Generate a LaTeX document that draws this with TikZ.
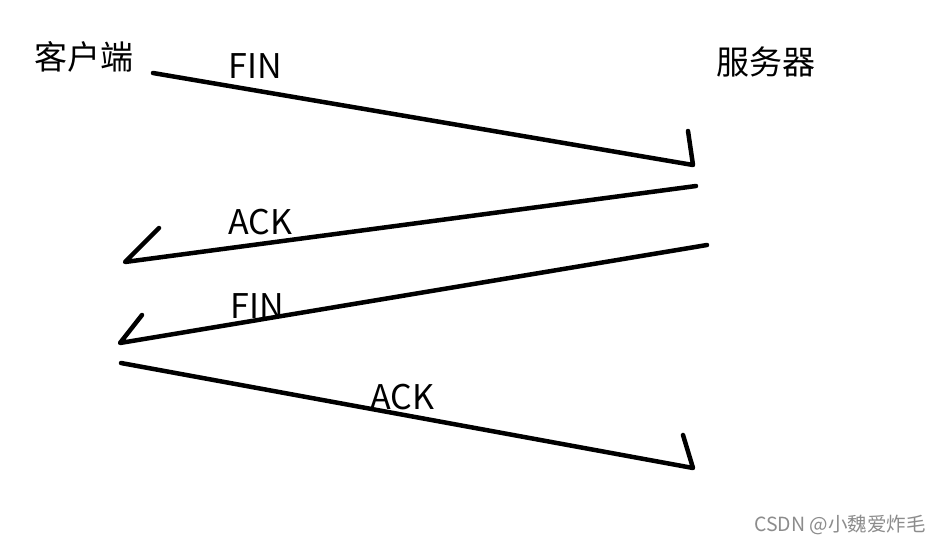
\documentclass[tikz,border=0pt]{standalone}
\usepackage{fontspec}
\newfontfamily\cjk{Noto Sans CJK SC}
\begin{document}
\begin{tikzpicture}[x=1pt,y=-1pt,
  stroke/.style={line width=4.5pt,line cap=round,line join=round,black},
  lbl/.style={font=\cjk\fontsize{33}{33}\selectfont,inner sep=0pt},
  msg/.style={font=\cjk\fontsize{34}{34}\selectfont,inner sep=0pt},
  wm/.style={font=\cjk\fontsize{19.5}{19.5}\selectfont,text=black!45,inner sep=0pt}]
\useasboundingbox (0,0) rectangle (941,544);
\fill[white] (0,0) rectangle (941,544);
% labels
\node[lbl] (client) at (84,57) {客户端};
\node[lbl] (server) at (766,62) {服务器};
\node[msg] (fin1) at (255,66) {FIN};
\node[msg] (ack1) at (260,222) {ACK};
\node[msg] (fin2) at (257,306) {FIN};
\node[msg] (ack2) at (402,397) {ACK};
\node[wm] (mark) at (840,525) {CSDN @小魏爱炸毛};
% endpoints
\coordinate (a1) at (153,73);  \coordinate (b1) at (693,165); \coordinate (h1) at (688,131);
\coordinate (a2) at (696,186); \coordinate (b2) at (125,262); \coordinate (h2) at (159,228);
\coordinate (a3) at (707,245); \coordinate (b3) at (120,343); \coordinate (h3) at (142,315);
\coordinate (a4) at (121,363); \coordinate (b4) at (693,468); \coordinate (h4) at (683,435);
\draw[stroke] (a1) -- (b1) -- (h1);
\draw[stroke] (a2) -- (b2) -- (h2);
\draw[stroke] (a3) -- (b3) -- (h3);
\draw[stroke] (a4) -- (b4) -- (h4);
\end{tikzpicture}
\end{document}
